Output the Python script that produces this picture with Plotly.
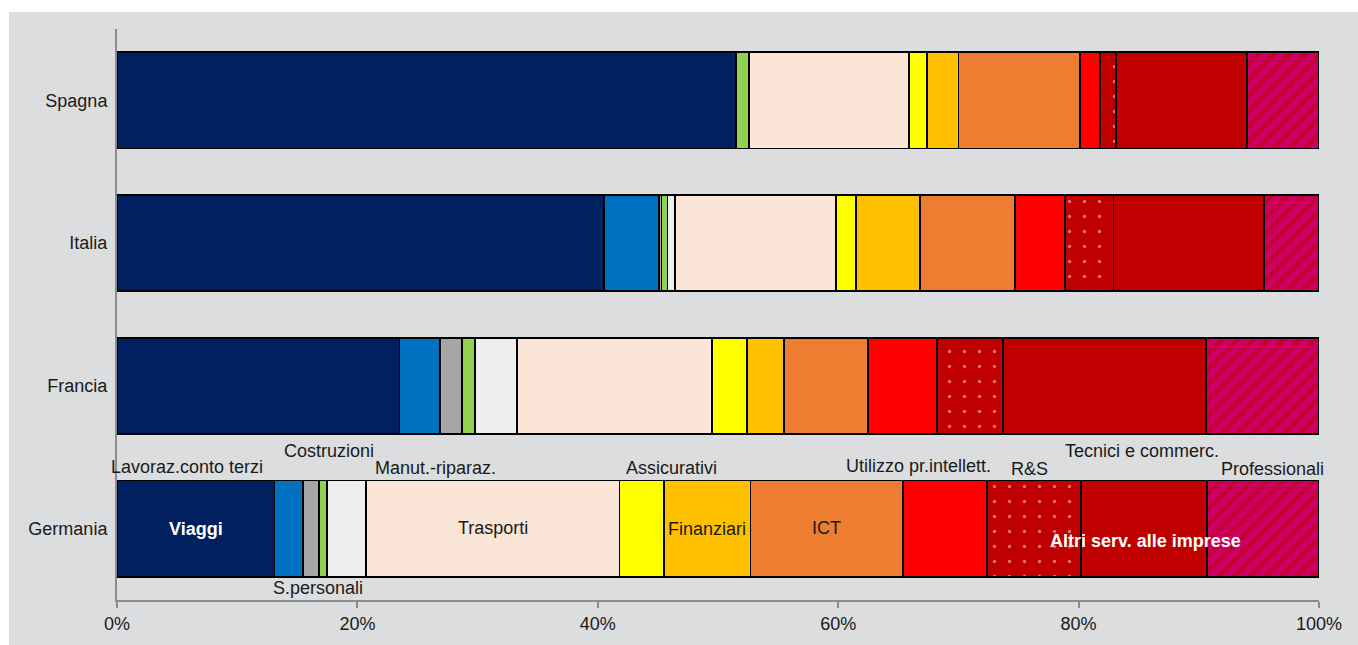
import numpy as np
import plotly.graph_objects as go

# Composizione delle esportazioni di servizi (quote % sul totale)
paesi = ["Germania", "Francia", "Italia", "Spagna"]

viaggi        = [13.1, 23.5, 40.5, 51.5]
lavoraz       = [2.4, 3.4, 4.6, 0.0]
s_personali   = [1.3, 1.8, 0.2, 0.0]
costruzioni   = [0.7, 1.1, 0.5, 1.1]
manut_ripar   = [3.2, 3.5, 0.6, 0.0]
trasporti     = [21.1, 16.2, 13.4, 13.3]
assicurativi  = [3.7, 2.9, 1.7, 1.5]
finanziari    = [7.2, 3.1, 5.3, 2.6]
ict           = [12.7, 7.0, 7.9, 10.1]
utilizzo_pi   = [7.0, 5.7, 4.2, 1.7]
ricerca_svil  = [7.8, 5.5, 4.0, 1.3]
tecnici_comm  = [10.5, 16.9, 12.5, 10.9]
professionali = [9.3, 9.4, 4.6, 6.0]

x_ticks = [0, 20, 40, 60, 80, 100]

FONT = "Liberation Sans, Arial, sans-serif"
FS = 18
TXT = "#1a1a1a"
BG = "#dcdddf"
AXIS = "#8c8c8c"

series = [
    ("Viaggi", viaggi, "#002060", None),
    ("Lavoraz.conto terzi", lavoraz, "#0070c0", None),
    ("S.personali", s_personali, "#a6a6a6", None),
    ("Costruzioni", costruzioni, "#92d050", None),
    ("Manut.-riparaz.", manut_ripar, "#eeeeee", None),
    ("Trasporti", trasporti, "#fbe5d6", None),
    ("Assicurativi", assicurativi, "#ffff00", None),
    ("Finanziari", finanziari, "#ffc000", None),
    ("ICT", ict, "#ed7d31", None),
    ("Utilizzo pr.intellett.", utilizzo_pi, "#ff0000", None),
    ("R&S", ricerca_svil, "#c00000",
     dict(shape=".", bgcolor="#c00000", fgcolor="#ffe4e4", size=15, solidity=0.04)),
    ("Tecnici e commerc.", tecnici_comm, "#c00000", None),
    ("Professionali", professionali, "#cc0066",
     dict(shape="/", bgcolor="#cc0066", fgcolor="#c00000", size=11, solidity=0.45)),
]

fig = go.Figure()
for name, vals, col, pat in series:
    marker = dict(color=col, line=dict(color="#000000", width=1.8))
    if pat is not None:
        marker["pattern"] = pat
    fig.add_trace(go.Bar(
        y=paesi, x=vals, name=name, orientation="h",
        marker=marker, hoverinfo="name+x",
    ))

# Etichette interne alla barra della Germania, al centro dei segmenti
ger = [s[1][0] for s in series]
cum = np.concatenate([[0], np.cumsum(ger)])
mid = {s[0]: (cum[i] + cum[i + 1]) / 2 for i, s in enumerate(series)}

# y in pixel del riquadro: area del grafico tra 29 e 600
def py(ypx):
    return (600 - ypx) / 571

inner = [
    ("<b>Viaggi</b>", mid["Viaggi"], 529, "white"),
    ("Trasporti", mid["Trasporti"], 528, TXT),
    ("Finanziari", mid["Finanziari"], 529, TXT),
    ("ICT", mid["ICT"], 528, TXT),
    ("<b>Altri serv. alle imprese</b>", 85.6, 541, "white"),
]
outer = [
    ("Lavoraz.conto terzi", 5.8, 467),
    ("Costruzioni", 17.6, 451),
    ("Manut.-riparaz.", 26.5, 468),
    ("S.personali", 16.7, 588),
    ("Assicurativi", 46.1, 468),
    ("Utilizzo pr.intellett.", 66.7, 466),
    ("R&S", 75.9, 469),
    ("Tecnici e commerc.", 85.3, 451),
    ("Professionali", 96.1, 469),
]

annotations = []
for text, x, y, c in inner:
    annotations.append(dict(text=text, x=x, y=py(y), xref="x", yref="paper",
                            showarrow=False, font=dict(family=FONT, size=FS, color=c),
                            xanchor="center", yanchor="middle"))
for text, x, y in outer:
    annotations.append(dict(text=text, x=x, y=py(y), xref="x", yref="paper",
                            showarrow=False, font=dict(family=FONT, size=FS, color=TXT),
                            xanchor="center", yanchor="middle"))

fig.update_layout(
    width=1358, height=645,
    margin=dict(l=117, r=39, t=29, b=45),
    barmode="stack", bargap=0.327,
    showlegend=False,
    paper_bgcolor="white",
    plot_bgcolor="rgba(0,0,0,0)",
    font=dict(family=FONT, size=FS, color=TXT),
    annotations=annotations,
    shapes=[dict(type="rect", xref="paper", yref="paper",
                 x0=(9 - 117) / 1202, x1=(1360 - 117) / 1202,
                 y0=(600 - 647) / 571, y1=(600 - 12) / 571,
                 fillcolor=BG, line=dict(width=0), layer="below")],
)
fig.update_xaxes(
    range=[0, 100], tickvals=x_ticks, ticktext=[f"{v}%" for v in x_ticks],
    showgrid=False, zeroline=False,
    showline=True, linecolor=AXIS, linewidth=2,
    ticks="outside", ticklen=6, tickwidth=2, tickcolor=AXIS,
    tickfont=dict(family=FONT, size=FS, color=TXT),
)
fig.update_yaxes(
    categoryorder="array", categoryarray=paesi,
    showgrid=False, zeroline=False,
    showline=True, linecolor=AXIS, linewidth=2,
    ticks="", ticklabelstandoff=4,
    tickfont=dict(family=FONT, size=FS, color=TXT),
)

fig.write_html("out.html")
